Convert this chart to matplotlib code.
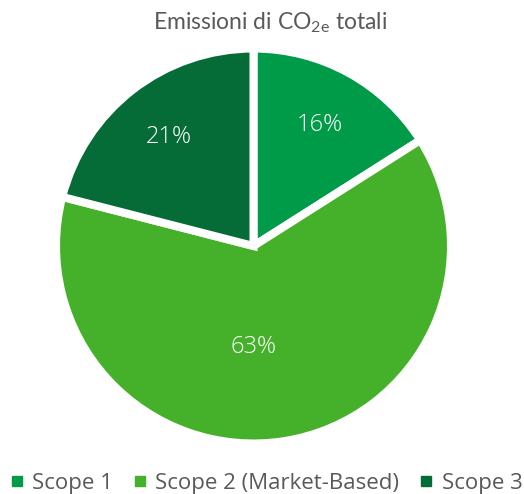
import matplotlib
matplotlib.use('Agg')
import matplotlib.pyplot as plt
from matplotlib.lines import Line2D

# data
labels = ['Scope 1', 'Scope 2 (Market-Based)', 'Scope 3']
shares = [16, 63, 21]
colors = ['#009B48', '#45B12B', '#056C38']

grey = '#595959'

fig = plt.figure(figsize=(5.24, 4.94), dpi=100)
fig.patch.set_facecolor('white')

# axes sized so the pie sits where it does in the reference
ax = fig.add_axes([0.1069, 0.1022, 0.7538, 0.7996])
wedges, texts, pcts = ax.pie(shares, colors=colors, startangle=90, counterclock=False,
                             autopct='%d%%', pctdistance=0.70,
                             wedgeprops=dict(edgecolor='white', linewidth=5.8),
                             textprops=dict(color='white', fontsize=17,
                                            family='Open Sans', weight='light'))
# Excel puts the big label straight under the centre
pcts[1].set_position((0.0, -0.51))
ax.set_xlim(-1, 1)
ax.set_ylim(-1, 1)
ax.set_aspect('equal')
ax.axis('off')

fig.text(0.516, 0.955, r'Emissioni di CO$_\mathregular{2e}$ totali', ha='center', va='center',
         fontsize=16.5, color=grey, family='Lato')

handles = [Line2D([0], [0], marker='s', linestyle='none', markersize=7.5,
                  markerfacecolor=c, markeredgecolor=c) for c in colors]
fig.legend(handles, labels, loc='center', bbox_to_anchor=(0.508, 0.022), ncol=3,
           frameon=False, handlelength=0.6, handletextpad=0.4, columnspacing=0.9,
           prop=dict(family='Open Sans', size=16), labelcolor=grey)

fig.savefig('out.png', dpi=100, facecolor='white')
